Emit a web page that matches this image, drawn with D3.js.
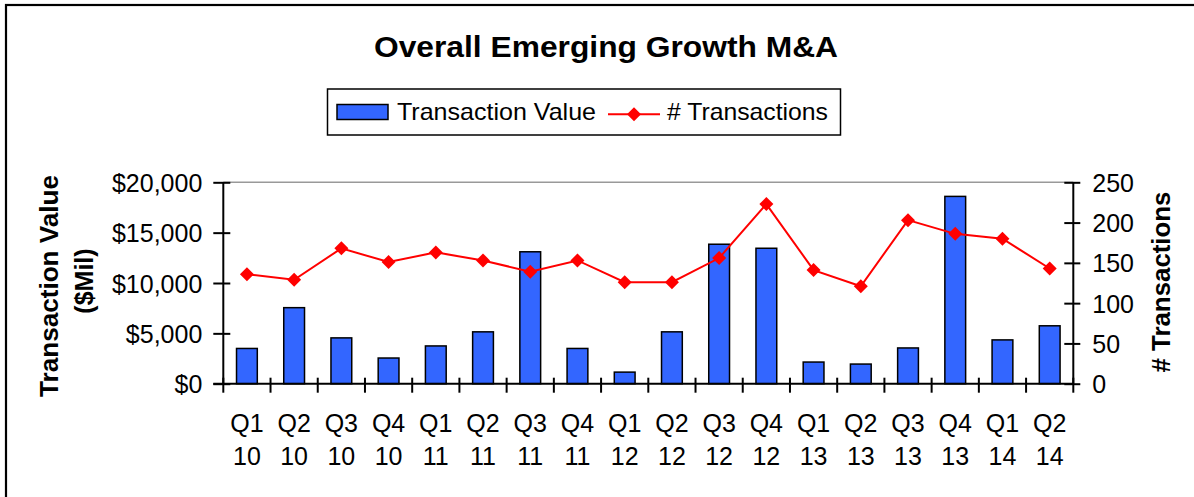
<!DOCTYPE html>
<html><head><meta charset="utf-8">
<script src="https://cdn.jsdelivr.net/npm/d3@7"></script>
<style>
html,body{margin:0;padding:0;background:#fff;}
svg{display:block;font-family:Arial,"Liberation Sans",sans-serif;}
</style></head>
<body><svg id="c" width="1194" height="497"></svg>
<script>
const quarters = ["Q1","Q2","Q3","Q4","Q1","Q2","Q3","Q4","Q1","Q2","Q3","Q4","Q1","Q2","Q3","Q4","Q1","Q2"];
const years    = ["10","10","10","10","11","11","11","11","12","12","12","12","13","13","13","13","14","14"];
const transactionValue = [3500,7550,4550,2550,3750,5150,13100,3500,1150,5150,13850,13450,2150,1950,3550,18600,4350,5750];
const numTransactions  = [136,129,168,151,163,153,139,153,126,126,156,223,141,121,203,186,180,143];
const leftTicks  = [0,5000,10000,15000,20000];
const rightTicks = [0,50,100,150,200,250];

const svg = d3.select("#c");
const L = 223.3, R = 1073.3, T = 182.3, B = 383.7;
const cats = quarters.map((q,i)=>i);
const x = d3.scaleBand().domain(cats).range([L,R]).padding(0);
const yL = d3.scaleLinear().domain([0,20000]).range([B,T]);
const yR = d3.scaleLinear().domain([0,250]).range([B,T]);

// outer border
svg.append("rect").attr("x",6).attr("y",5).attr("width",1200).attr("height",500)
  .attr("fill","none").attr("stroke","#000").attr("stroke-width",2.2);

// title
svg.append("text").attr("x",606).attr("y",57).attr("text-anchor","middle")
  .attr("font-size",29).attr("font-weight","bold").attr("textLength",464).attr("lengthAdjust","spacingAndGlyphs")
  .text("Overall Emerging Growth M&A");

// legend
const lg = svg.append("g");
lg.append("rect").attr("x",327.5).attr("y",89).attr("width",513).attr("height",46)
  .attr("fill","#fff").attr("stroke","#000").attr("stroke-width",1.5);
lg.append("rect").attr("x",337).attr("y",104.5).attr("width",51).attr("height",15)
  .attr("fill","#3366ff").attr("stroke","#000").attr("stroke-width",1.5);
lg.append("text").attr("x",397).attr("y",120).attr("font-size",24).attr("textLength",199).attr("lengthAdjust","spacingAndGlyphs").text("Transaction Value");
lg.append("line").attr("x1",608).attr("x2",660).attr("y1",114.3).attr("y2",114.3).attr("stroke","#ff0000").attr("stroke-width",2);
lg.append("path").attr("transform","translate(634,114.3)").attr("d","M0,-7L7,0L0,7L-7,0Z").attr("fill","#ff0000");
lg.append("text").attr("x",667).attr("y",120).attr("font-size",24).attr("textLength",161).attr("lengthAdjust","spacingAndGlyphs").text("# Transactions");

// top border line of plot area
svg.append("line").attr("x1",L).attr("x2",R).attr("y1",T).attr("y2",T).attr("stroke","#999").attr("stroke-width",1.5);

// bars
const bw = x.bandwidth()*0.44;
svg.append("g").selectAll("rect").data(transactionValue).join("rect")
  .attr("x",(d,i)=>x(i)+x.bandwidth()/2-bw/2)
  .attr("y",d=>yL(d)).attr("width",bw).attr("height",d=>B-yL(d))
  .attr("fill","#3366ff").attr("stroke","#000").attr("stroke-width",1.5);

// left axis
const gL = svg.append("g").attr("transform",`translate(${L},0)`)
  .call(d3.axisLeft(yL).tickValues(leftTicks).tickSize(10).tickPadding(11).tickFormat(d=>"$"+d3.format(",")(d)));
gL.selectAll(".tick line").attr("x2",-10).attr("x1",7);
// right axis
const gR = svg.append("g").attr("transform",`translate(${R},0)`)
  .call(d3.axisRight(yR).tickValues(rightTicks).tickSize(7).tickPadding(12));
gR.selectAll(".tick line").attr("x1",-9).attr("x2",7);
[gL,gR].forEach(g=>{
  g.select(".domain").attr("stroke","#000").attr("stroke-width",2).attr("d",`M0,${T}V${B}`);
  g.selectAll(".tick line").attr("stroke","#000").attr("stroke-width",2);
  g.selectAll(".tick text").attr("font-size",25).attr("fill","#000").attr("font-family","Arial,'Liberation Sans',sans-serif").attr("dy","0.36em");
});

// x axis
const gX = svg.append("g").attr("transform",`translate(0,${B})`);
gX.append("line").attr("x1",L-10).attr("x2",R).attr("stroke","#000").attr("stroke-width",2);
const bounds = d3.range(quarters.length+1).map(i=> i<quarters.length ? x(i) : R);
gX.selectAll(".xt").data(bounds).join("line").attr("class","xt")
  .attr("x1",d=>d).attr("x2",d=>d).attr("y1",-6).attr("y2",9).attr("stroke","#000").attr("stroke-width",2);
const xl = gX.selectAll(".xl").data(cats).join("text").attr("class","xl")
  .attr("text-anchor","middle").attr("font-size",25);
xl.append("tspan").attr("x",d=>x(d)+x.bandwidth()/2).attr("y",48).text(d=>quarters[d]);
xl.append("tspan").attr("x",d=>x(d)+x.bandwidth()/2).attr("y",81.5).text(d=>years[d]);

// line
const line = d3.line().x((d,i)=>x(i)+x.bandwidth()/2).y(d=>yR(d));
svg.append("path").datum(numTransactions).attr("d",line).attr("fill","none").attr("stroke","#ff0000").attr("stroke-width",2);
svg.append("g").selectAll("path").data(numTransactions).join("path")
  .attr("transform",(d,i)=>`translate(${x(i)+x.bandwidth()/2},${yR(d)})`)
  .attr("d","M0,-7L7,0L0,7L-7,0Z").attr("fill","#ff0000");

// axis titles
svg.append("text").attr("transform","translate(58,286) rotate(-90)").attr("text-anchor","middle")
  .attr("font-size",25).attr("font-weight","bold").attr("textLength",222).attr("lengthAdjust","spacingAndGlyphs").text("Transaction Value");
svg.append("text").attr("transform","translate(93,281) rotate(-90)").attr("text-anchor","middle")
  .attr("font-size",25).attr("font-weight","bold").text("($Mil)");
svg.append("text").attr("transform","translate(1170,282) rotate(-90)").attr("text-anchor","middle")
  .attr("font-size",25).attr("font-weight","bold").attr("textLength",181).attr("lengthAdjust","spacingAndGlyphs").text("# Transactions");
</script></body></html>
